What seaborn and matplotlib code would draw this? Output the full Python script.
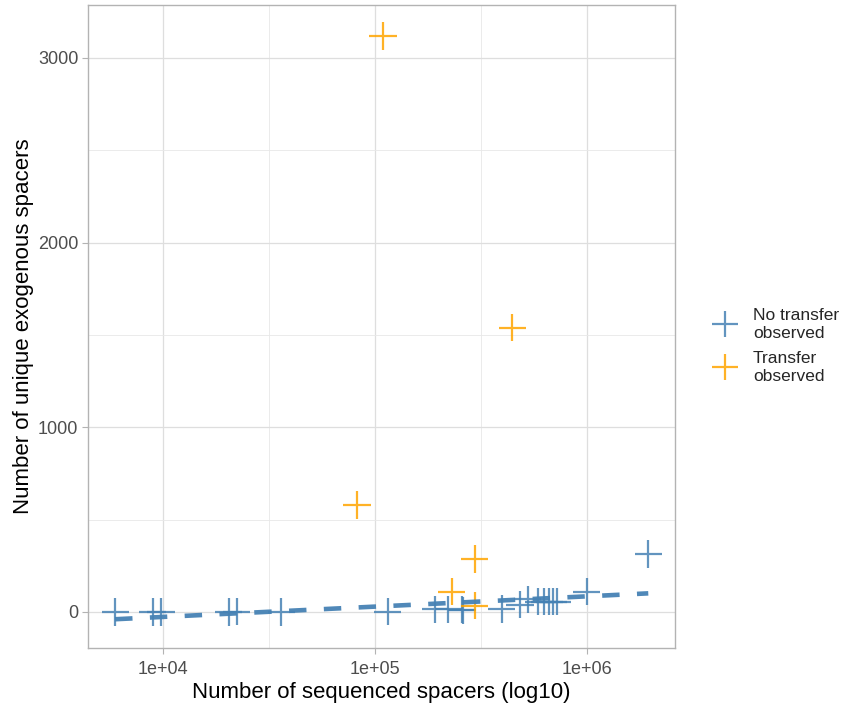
import matplotlib
matplotlib.use('Agg')
import matplotlib.pyplot as plt
import matplotlib.ticker as mticker
from matplotlib.lines import Line2D
import numpy as np
import pandas as pd
import seaborn as sns

# values
no_transfer_x = [5940, 8940, 9780, 20400, 22300, 36100, 114800, 191900, 221800, 256400,
                 259500, 396000, 483000, 525000, 590000, 627000, 664000, 694000, 725000,
                 995000, 1945000]
no_transfer_y = [0, 0, 0, 0, 2, 0, 2, 15, 15, 11, 10, 16, 38, 70, 56, 55, 55, 55, 55, 110, 314]
transfer_x = [82200, 109000, 230000, 294600, 294600, 443000]
transfer_y = [579, 3118, 110, 287, 34, 1538]
group_labels = ['No transfer\nobserved', 'Transfer\nobserved']
group_colors = ['steelblue', 'orange']
x_ticks = [1e4, 1e5, 1e6]
x_tick_labels = ['1e+04', '1e+05', '1e+06']
y_ticks = [0, 1000, 2000, 3000]

df = pd.DataFrame({
    'spacers': no_transfer_x + transfer_x,
    'exogenous': no_transfer_y + transfer_y,
    'group': [group_labels[0]] * len(no_transfer_x) + [group_labels[1]] * len(transfer_x),
})
palette = dict(zip(group_labels, group_colors))

sns.set_style('white')
plt.rcParams['font.family'] = ['Liberation Sans', 'DejaVu Sans']

fig = plt.figure(figsize=(8.45, 7.04), dpi=100)
ax = fig.add_axes([88 / 845, 1 - 648 / 704, 587 / 845, 643 / 704])
ax.set_xscale('log')

sns.scatterplot(data=df, x='spacers', y='exogenous', hue='group', palette=palette,
                marker='+', s=380, linewidth=1.6, alpha=0.85, legend=False, ax=ax, zorder=3)

# linear fit on log10(x) for the no-transfer group
sns.regplot(data=df[df['group'] == group_labels[0]], x='spacers', y='exogenous',
            logx=True, ci=None, scatter=False, color='steelblue', ax=ax,
            line_kws=dict(lw=3.3, ls=(0, (3.8, 3.8)), zorder=4, alpha=0.95,
                          solid_capstyle='butt'))

ax.set_xlim(10 ** 3.646, 10 ** 6.415)
ax.set_ylim(-195, 3286)
ax.xaxis.set_major_locator(mticker.FixedLocator(x_ticks))
ax.xaxis.set_major_formatter(mticker.FixedFormatter(x_tick_labels))
ax.xaxis.set_minor_locator(mticker.FixedLocator([10 ** 3.5, 10 ** 4.5, 10 ** 5.5, 10 ** 6.5]))
ax.xaxis.set_minor_formatter(mticker.NullFormatter())
ax.yaxis.set_major_locator(mticker.FixedLocator(y_ticks))
ax.yaxis.set_minor_locator(mticker.FixedLocator([500, 1500, 2500]))

ax.grid(True, which='major', color='#DEDEDE', lw=0.9)
ax.grid(True, which='minor', color='#E8E8E8', lw=0.6)
ax.set_axisbelow(True)
for sp in ax.spines.values():
    sp.set_color('#B3B3B3')
    sp.set_linewidth(1.0)
ax.tick_params(which='major', length=4, width=0.8, color='#B3B3B3', pad=3,
               labelsize=13, labelcolor='#4D4D4D', bottom=True, left=True)
ax.tick_params(axis='x', pad=5)
ax.tick_params(which='minor', length=0)

ax.set_xlabel('Number of sequenced spacers (log10)', fontsize=16, color='black', labelpad=3)
ax.set_ylabel('Number of unique exogenous spacers', fontsize=16, color='black', labelpad=3)

handles = [Line2D([], [], ls='none', marker='+', markersize=19, markeredgewidth=1.6,
                  color=c, alpha=0.85) for c in group_colors]
leg = ax.legend(handles, group_labels, loc='center left', bbox_to_anchor=(1.035, 0.47),
                frameon=False, fontsize=12.5, handlelength=1.6, handletextpad=0.8,
                labelspacing=0.55)
for t in leg.get_texts():
    t.set_linespacing(1.25)

fig.savefig('out.png', dpi=100)
